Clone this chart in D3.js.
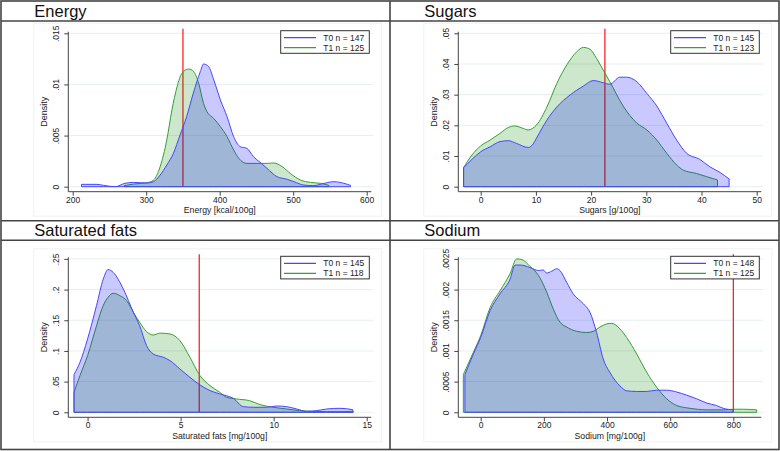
<!DOCTYPE html>
<html>
<head>
<meta charset="utf-8">
<title>Density T0 vs T1</title>
<script src="https://d3js.org/d3.v7.min.js"></script>
<style>
  body { margin: 0; background: #fff; }
  svg { display: block; font-family: "Liberation Sans", Arial, sans-serif; }
</style>
</head>
<body>
<svg width="780" height="451"></svg>
<script>
// density curves, [value, density]
const energyT0 = [[212,.00023],[233,.00023],[242,.00013],[258,0],[271,.00033],[283,.00042],[301,.00036],[310,.00049],[319,.00114],[328,.00212],[337,.00326],[346,.00505],[355,.00685],[364,.00913],[373.6,.01125],[378,.012],[385,.01174],[392,.01043],[401,.00848],[410,.00685],[419,.00489],[428,.00391],[437,.00375],[446,.00293],[455,.00238],[464.5,.00179],[478,.00098],[492,.00072],[501,.00049],[514.5,.00016],[528,.0001],[542,.00033],[555.5,.00049],[569,.00033],[578,.00013]];
const energyT1 = [[270,.0001],[283,.00026],[301,.00039],[310,.00065],[319,.00196],[328,.00457],[335,.0075],[342,.00978],[348.6,.01109],[357.7,.01151],[364.5,.01125],[371.4,.01011],[378,.00815],[382.7,.00734],[391.8,.00668],[401,.00587],[410,.00489],[419,.00359],[426,.00277],[437,.00228],[451,.00228],[464.5,.00228],[473.6,.00232],[485,.00196],[496,.0013],[510,.00065],[523.6,.00042],[537,.00033],[548.6,.00013]];

const sugarsT0 = [[-3.1,.0062],[-1.6,.0089],[0,.0114],[1.7,.013],[3.5,.0147],[5,.015],[6.5,.0141],[8.6,.0128],[9.5,.0139],[10.1,.0158],[12,.0217],[13.8,.026],[16.2,.0299],[18.6,.0328],[20.4,.0346],[22.2,.0339],[23.4,.0334],[25.2,.0357],[26.4,.0357],[28.3,.0342],[30.1,.0304],[31.9,.0263],[33.7,.0207],[35.5,.0152],[37.3,.0109],[39.7,.0089],[41.5,.0065],[43.4,.0046],[45,.0025]];
const sugarsT1 = [[-3.1,.0062],[-1.6,.0103],[0,.0133],[1.7,.0152],[3.5,.0174],[5,.0193],[6.2,.0198],[7.7,.019],[8.6,.0185],[10.1,.0201],[12,.026],[13.8,.0337],[15.6,.0397],[17.4,.044],[18.6,.0454],[19.8,.0448],[21,.0418],[22.2,.038],[23.4,.0342],[25.8,.0263],[28.3,.0207],[30.1,.0185],[31.9,.0152],[33.7,.0109],[35.5,.0071],[36.7,.0054],[39.1,.0043],[40.9,.0033],[42.9,.0022]];

const satfatT0 = [[-0.73,.0614],[-0.41,.0815],[0,.1196],[0.48,.174],[0.84,.217],[1.1,.2326],[1.38,.228],[1.92,.201],[2.46,.163],[2.8,.141],[3.17,.1087],[3.53,.095],[4.07,.0897],[4.43,.0842],[4.96,.0707],[5.5,.057],[6.04,.0446],[6.58,.0353],[7.1,.03],[7.47,.027],[7.83,.0228],[8.37,.0092],[8.9,.0082],[9.6,.0082],[10.16,.0103],[10.7,.0092],[11.24,.0054],[11.77,.0016],[12.3,.0027],[12.85,.0054],[13.57,.0065],[14.25,.0043]];
const satfatT1 = [[-0.73,.0326],[-0.41,.0598],[0,.0924],[0.48,.141],[0.84,.174],[1.1,.1875],[1.38,.194],[1.74,.19],[2.1,.182],[2.46,.163],[2.8,.1467],[3.17,.1315],[3.53,.126],[3.9,.129],[4.43,.1277],[4.96,.1168],[5.5,.0897],[6.04,.0598],[6.58,.0435],[7.1,.0326],[7.47,.0245],[8.0,.0217],[8.7,.019],[9.27,.0125],[9.98,.0082],[10.7,.0054],[11.4,.0027],[12.1,.0016],[12.85,.001],[13.57,.001],[14.28,.0016]];

const sodiumT0 = [[-50,.000614],[-23,.000951],[0,.00122],[30,.00166],[61,.00193],[93,.00217],[109,.0024],[125,.0024],[156,.00236],[183,.00231],[198,.00232],[209,.00227],[225,.0023],[241,.00234],[251,.00231],[272,.00212],[293,.00193],[325,.00177],[346,.00163],[367,.0013],[388,.00087],[409,.00065],[441,.00043],[462,.00035],[494,.00034],[526,.00034],[557,.00036],[589,.00036],[621,.00033],[652,.00028],[684,.00022],[716,.00015],[747,.00011],[768,.000065],[800,.00004]];
const sodiumT1 = [[-55,.000614],[-23,.00098],[0,.00125],[30,.00171],[61,.00198],[93,.00226],[114,.0025],[130,.00249],[156,.00238],[183,.00223],[209,.00196],[230,.00168],[251,.00147],[272,.00139],[304,.00132],[336,.0013],[357,.00132],[378,.00139],[399,.00144],[415,.00145],[441,.00136],[462,.00122],[494,.00095],[526,.00065],[557,.00041],[589,.00022],[621,.00011],[663,.000065],[716,.00004],[768,.00004],[800,.00005],[832,.00005],[874,.00004]];

const titles = ["Energy", "Sugars", "Saturated fats", "Sodium"];
const xTitles = ["Energy [kcal/100g]", "Sugars [g/100g]", "Saturated fats [mg/100g]", "Sodium [mg/100g]"];
const xTicks = [[200,300,400,500,600],[0,10,20,30,40,50],[0,5,10,15],[0,200,400,600,800]];
const yTicks = [[0,.005,.01,.015],[0,.01,.02,.03,.04,.05],[0,.05,.1,.15,.2,.25],[0,.0005,.001,.0015,.002,.0025]];
const yTickLabels = [["0",".005",".01",".015"],["0",".01",".02",".03",".04",".05"],["0",".05",".1",".15",".2",".25"],["0",".0005",".001",".0015",".002",".0025"]];
const cutoffs = [350, 22.5, 6, 800];
const nT0 = [147, 145, 145, 148];
const nT1 = [125, 123, 118, 125];
const xExtents = [[200,600],[-3.26,50],[-0.8,15],[-57,874]];

const curvesT0 = [energyT0, sugarsT0, satfatT0, sodiumT0];
const curvesT1 = [energyT1, sugarsT1, satfatT1, sodiumT1];

const blue = "#4646ff", green = "#35a035", frame = "#444";

const svg = d3.select("svg");

// panel slots: [graph region x, y, title baseline]
const slots = [[33.3, 22.7, 16.7], [423.3, 22.7, 16.7], [33.3, 248.3, 236], [423.3, 248.3, 236]];

// frame lines
svg.append("rect").attr("x", 1).attr("y", 1).attr("width", 778).attr("height", 448.5)
  .attr("fill", "none").attr("stroke", frame).attr("stroke-width", 1.6);
[[1, 390, 390, 449.5], [1, 779, 220.7, 220.7], [1, 779, 21, 21], [1, 779, 240.2, 240.2]].forEach(l => {
  const vertical = l[1] === 390 && l[0] === 1 && l[2] === 390;
  svg.append("line")
    .attr("x1", vertical ? 390 : l[0]).attr("x2", vertical ? 390 : l[1])
    .attr("y1", vertical ? 1 : l[2]).attr("y2", vertical ? 449.5 : l[3])
    .attr("stroke", frame).attr("stroke-width", 1.6);
});

titles.forEach((t, i) => {
  const [ox, oy, ty] = slots[i];
  svg.append("text").attr("x", ox + 1).attr("y", ty)
    .attr("font-size", 16.5).attr("fill", "#111").text(t);

  const g = svg.append("g").attr("transform", `translate(${ox},${oy})`);
  g.append("rect").attr("x", 0.5).attr("y", 0.5).attr("width", 348).attr("height", 193)
    .attr("fill", "#fff").attr("stroke", "#edf3f4");

  const x = d3.scaleLinear().domain(xExtents[i]).range([39.4, 333.4]);
  const y = d3.scaleLinear().domain([0, yTicks[i][yTicks[i].length - 1]]).range([164, 10.6]);

  g.selectAll(".grid").data(yTicks[i]).join("line").attr("class", "grid")
    .attr("x1", 35).attr("x2", 340).attr("y1", d => y(d)).attr("y2", d => y(d))
    .attr("stroke", "#e6eff1").attr("stroke-width", 1);

  // reference line sits under the areas
  g.append("line").attr("x1", x(cutoffs[i])).attr("x2", x(cutoffs[i]))
    .attr("y1", 6).attr("y2", y(0)).attr("stroke", "#ff1010").attr("stroke-width", 1.2);

  const area = d3.area().x(d => x(d[0])).y0(y(0)).y1(d => y(d[1])).curve(d3.curveMonotoneX);
  g.append("path").datum(curvesT1[i]).attr("d", area)
    .attr("fill", "rgba(0,135,0,0.2)").attr("stroke", green).attr("stroke-width", 1);
  g.append("path").datum(curvesT0[i]).attr("d", area)
    .attr("fill", "rgba(0,0,255,0.21)").attr("stroke", blue).attr("stroke-width", 1);

  // axes
  const yAxis = g.append("g").attr("transform", "translate(35,0)")
    .call(d3.axisLeft(y).tickValues(yTicks[i]).tickFormat((d, k) => yTickLabels[i][k]).tickSize(4).tickSizeOuter(0));
  yAxis.select(".domain").remove();
  yAxis.selectAll(".tick line").attr("stroke", frame);
  yAxis.selectAll(".tick text").attr("transform", "rotate(-90)").attr("x", 0).attr("y", -9)
    .attr("dy", 0).attr("text-anchor", "middle").attr("font-size", 8.5).attr("fill", "#222")
    .attr("font-family", null);
  g.append("line").attr("x1", 35).attr("x2", 35).attr("y1", 9).attr("y2", 169)
    .attr("stroke", frame).attr("stroke-width", 1);

  const xAxis = g.append("g").attr("transform", "translate(0,169)")
    .call(d3.axisBottom(x).tickValues(xTicks[i]).tickFormat(d3.format("d")).tickSize(4).tickPadding(1).tickSizeOuter(0));
  xAxis.select(".domain").remove();
  xAxis.selectAll(".tick line").attr("stroke", frame);
  xAxis.selectAll(".tick text").attr("font-size", 8.5).attr("fill", "#222").attr("font-family", null);
  g.append("line").attr("x1", 35).attr("x2", 338).attr("y1", 169).attr("y2", 169)
    .attr("stroke", frame).attr("stroke-width", 1);

  g.append("text").attr("transform", `translate(13.8,${(9 + 169) / 2}) rotate(-90)`)
    .attr("text-anchor", "middle").attr("font-size", 9).attr("fill", "#222").text("Density");
  g.append("text").attr("x", (35 + 338) / 2).attr("y", 190.5)
    .attr("text-anchor", "middle").attr("font-size", 8.7).attr("fill", "#222").text(xTitles[i]);

  // legend
  const lg = g.append("g").attr("transform", "translate(247.4,8)");
  lg.append("rect").attr("width", 88.6).attr("height", 22.6)
    .attr("fill", "#fff").attr("stroke", "#333").attr("stroke-width", 1);
  [[`T0 n = ${nT0[i]}`, blue, 7], [`T1 n = ${nT1[i]}`, green, 17]].forEach(([label, c, ly]) => {
    lg.append("line").attr("x1", 3.3).attr("x2", 35.3).attr("y1", ly).attr("y2", ly)
      .attr("stroke", c).attr("stroke-width", 1.2);
    lg.append("text").attr("x", 42.6).attr("y", ly + 3).attr("font-size", 8.5)
      .attr("fill", "#222").text(label);
  });
});
</script>
</body>
</html>
